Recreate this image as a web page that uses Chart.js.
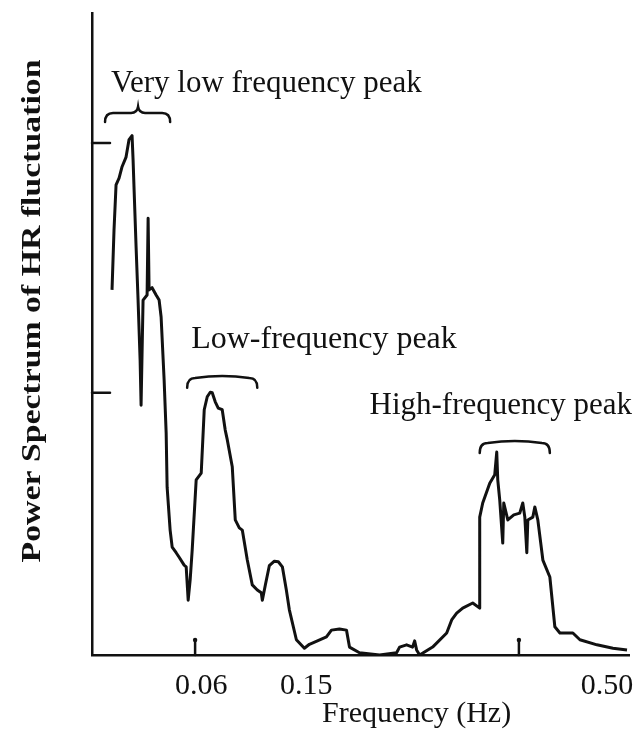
<!DOCTYPE html>
<html>
<head>
<meta charset="utf-8">
<script src="https://cdn.jsdelivr.net/npm/chart.js@4.4.1/dist/chart.umd.min.js"></script>
<style>
  html, body { margin: 0; background: #fff; }
</style>
</head>
<body>
<canvas id="grafico" width="644" height="734"></canvas>
<script>
// Espectro de potência da variabilidade da FC (figura escaneada)
// eixo x não é linear no original: posição ao longo do eixo (0–100)

const posicoes = [
  3.73, 4.10, 4.48, 5.04, 5.60, 6.34, 6.90, 7.46, 7.65, 7.84, 8.21, 8.58, 8.96, 9.14,
  9.51, 10.26, 10.45, 10.63, 11.19, 11.94, 12.50, 12.87, 13.43, 13.81, 13.99, 14.55,
  14.93, 15.67, 16.23, 17.16, 17.54, 17.91, 18.28, 18.66, 19.40, 20.34, 20.90, 21.46,
  22.02, 22.39, 22.95, 23.51, 24.25, 24.81, 25.19, 26.12, 26.68, 27.43, 27.99, 28.92,
  29.85, 30.78, 31.53, 31.72, 32.28, 33.02, 33.96, 34.70, 35.45, 36.19, 36.75, 38.06,
  39.55, 40.49, 41.98, 43.66, 44.59, 46.08, 47.39, 47.95, 49.81, 53.55, 56.72, 57.28,
  58.58, 59.70, 60.08, 60.45, 61.01, 63.43, 66.05, 66.98, 67.91, 69.03, 70.90, 72.20,
  72.20, 72.76, 74.07, 75.00, 75.37, 75.56, 75.93, 76.49, 76.68, 77.43, 78.55, 79.66,
  80.22, 80.60, 80.97, 81.16, 82.09, 82.46, 83.02, 83.96, 85.26, 86.19, 87.13, 89.55,
  90.86, 94.03, 97.01, 99.63,
];

const potencia = [
  64.6, 75.2, 83.2, 84.4, 86.4, 88.1, 91.2, 91.9, 87.6, 82.3, 72.2, 62.8, 52.2, 44.2,
  62.8, 63.7, 77.3, 64.6, 65.0, 63.7, 62.8, 59.8, 48.7, 39.3, 29.7, 22.1,
  19.1, 18.1, 17.3, 15.9, 15.6, 9.7, 13.3, 18.6, 31.0, 32.2, 43.4, 45.7,
  46.5, 46.4, 44.8, 43.7, 43.4, 39.8, 38.1, 33.3, 23.9, 22.5, 22.1, 16.8,
  12.4, 11.5, 11.0, 9.7, 12.4, 15.8, 16.6, 16.5, 15.6, 11.5, 8.0, 2.7,
  1.2, 1.9, 2.5, 3.2, 4.4, 4.6, 4.4, 1.4, 0.4, 0.0, 0.4, 1.4,
  1.8, 1.4, 2.5, 0.9, 0.0, 1.4, 3.9, 6.2, 7.4, 8.3, 9.2, 8.3,
  24.4, 26.9, 30.4, 31.9, 35.9, 31.0, 27.4, 19.8, 26.9, 23.9, 24.8, 25.1,
  26.9, 24.4, 18.1, 23.9, 24.4, 26.2, 23.9, 16.8, 13.8, 5.0, 3.9, 3.9,
  2.7, 1.8, 1.2, 0.9,
];

const ticksPos     = [20.34, 39.9, 95.9];
const ticksRotulos = ['0.06', '0.15', '0.50'];
const marcasX      = [19.2, 79.5];
const marcasY      = [46.4, 90.6];

const tituloX = 'Frequency (Hz)';
const tituloY = 'Power Spectrum of HR fluctuation';

const picos = [
  { texto: 'Very low frequency peak', tx: 3.54,  ty: 99.6, x0: 2.43,  x1: 14.55, yTopo: 95.9, yPonta: 94.3, xMeio: 8.58, yMeio: 97.0 },
  { texto: 'Low-frequency peak',      tx: 18.47, ty: 54.3, x0: 17.72, x1: 30.78, yTopo: 49.0, yPonta: 47.3 },
  { texto: 'High-frequency peak',     tx: 51.68, ty: 42.65, x0: 72.2, x1: 85.26, yTopo: 37.5, yPonta: 35.75 },
];

const tinta = '#111';
const serif = '"Liberation Serif", "DejaVu Serif", serif';

function desenharChave(ctx, sx, sy, p) {
  const a = sx.getPixelForValue(p.x0), b = sx.getPixelForValue(p.x1);
  const yt = sy.getPixelForValue(p.yTopo), yp = sy.getPixelForValue(p.yPonta);
  ctx.beginPath();
  ctx.moveTo(a, yp);
  ctx.quadraticCurveTo(a, yt, a + 8, yt);
  if (p.xMeio !== undefined) {
    const m = sx.getPixelForValue(p.xMeio), ym = sy.getPixelForValue(p.yMeio);
    ctx.lineTo(m - 7, yt);
    ctx.quadraticCurveTo(m - 1, yt, m, ym);
    ctx.quadraticCurveTo(m + 1, yt, m + 7, yt);
  } else {
    ctx.quadraticCurveTo((a + b) / 2, yt - 4, b - 8, yt);
  }
  ctx.lineTo(b - 8, yt);
  ctx.quadraticCurveTo(b, yt, b, yp);
  ctx.stroke();
}

const anotacoes = {
  id: 'anotacoes',
  afterDraw(chart) {
    const { ctx, chartArea, scales: { x, y } } = chart;
    ctx.save();
    ctx.strokeStyle = tinta;
    ctx.fillStyle = tinta;
    ctx.lineWidth = 2.5;
    ctx.lineCap = 'round';

    // marcas do eixo x (para dentro)
    marcasX.forEach(v => {
      const px = x.getPixelForValue(v);
      ctx.beginPath();
      ctx.moveTo(px, chartArea.bottom);
      ctx.lineTo(px, chartArea.bottom - 15);
      ctx.stroke();
      ctx.beginPath();
      ctx.arc(px, chartArea.bottom - 15, 2.2, 0, Math.PI * 2);
      ctx.fill();
    });
    // marcas do eixo y
    marcasY.forEach(v => {
      const py = y.getPixelForValue(v);
      ctx.beginPath();
      ctx.moveTo(chartArea.left, py);
      ctx.lineTo(chartArea.left + 18, py);
      ctx.stroke();
    });

    // chaves e rótulos dos picos
    ctx.textBaseline = 'alphabetic';
    picos.forEach((p, i) => {
      desenharChave(ctx, x, y, p);
      ctx.font = (i === 1 ? '32px ' : '31px ') + serif;
      ctx.textAlign = 'left';
      ctx.fillText(p.texto, x.getPixelForValue(p.tx), y.getPixelForValue(p.ty));
    });

    // título do eixo x
    ctx.font = '30px ' + serif;
    ctx.textAlign = 'center';
    ctx.fillText(tituloX, x.getPixelForValue(60.45), chartArea.bottom + 67);

    // título do eixo y (condensado, girado)
    ctx.font = 'bold 28px ' + serif;
    const largura = ctx.measureText(tituloY).width;
    ctx.translate(chartArea.left - 59, chartArea.bottom - 344);
    ctx.rotate(-Math.PI / 2);
    ctx.scale(503 / largura, 1);
    ctx.textBaseline = 'middle';
    ctx.fillText(tituloY, 0, 0);
    ctx.restore();
  },
};

new Chart(document.getElementById('grafico'), {
  type: 'line',
  data: {
    datasets: [{
      data: posicoes.map((v, i) => ({ x: v, y: potencia[i] })),
      borderColor: tinta,
      borderWidth: 3,
      pointRadius: 0,
      tension: 0,
      fill: false,
      borderJoinStyle: 'round',
    }],
  },
  options: {
    responsive: false,
    animation: false,
    layout: { padding: { left: 92, right: 15, top: 13, bottom: 35 } },
    plugins: { legend: { display: false }, tooltip: { enabled: false } },
    scales: {
      x: {
        type: 'linear',
        min: 0,
        max: 100,
        afterBuildTicks: (s) => { s.ticks = ticksPos.map(v => ({ value: v })); },
        afterFit: (s) => { s.height = 44; },
        ticks: {
          autoSkip: false,
          maxRotation: 0,
          padding: 5,
          color: tinta,
          font: { family: serif, size: 30 },
          callback: (v) => ticksRotulos[ticksPos.indexOf(v)],
        },
        grid: { display: false },
        border: { display: true, color: tinta, width: 2.5 },
      },
      y: {
        min: 0,
        max: 113.6,
        afterFit: (s) => { s.width = 0; },
        ticks: { display: false },
        grid: { display: false },
        border: { display: true, color: tinta, width: 2.5 },
      },
    },
  },
  plugins: [anotacoes],
});
</script>
</body>
</html>
